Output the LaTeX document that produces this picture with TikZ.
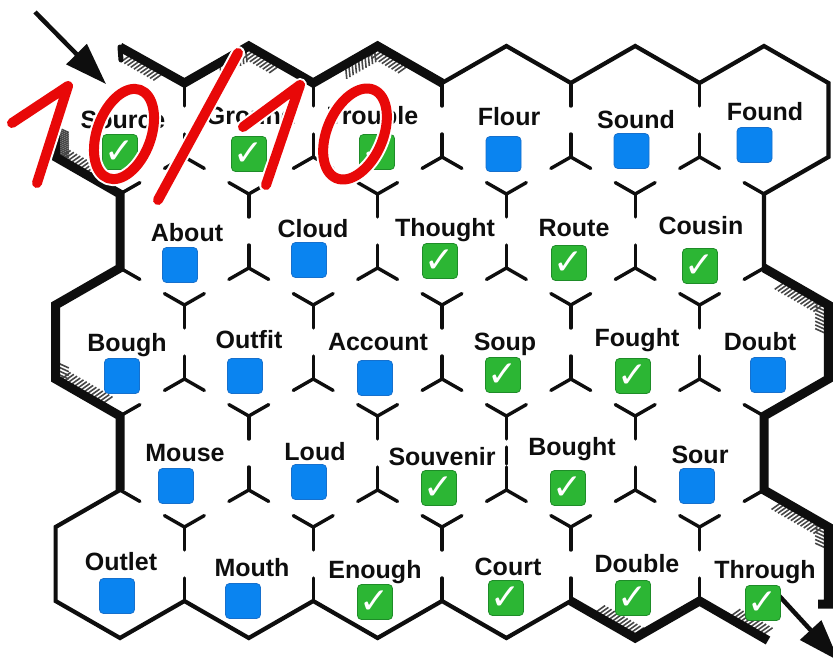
\documentclass[tikz,border=0pt]{standalone}
\usepackage{fontspec}
\setmainfont{Liberation Sans}
\newfontfamily\chkfont{DejaVu Sans}
\usetikzlibrary{calc,arrows.meta}
\definecolor{boxblue}{RGB}{10,132,240}
\definecolor{boxblueedge}{RGB}{22,112,205}
\definecolor{boxgreen}{RGB}{44,182,52}
\definecolor{boxgreenedge}{RGB}{30,140,40}
\definecolor{penred}{RGB}{232,8,8}
\definecolor{ink}{RGB}{14,14,14}
\definecolor{hatchgrey}{RGB}{70,70,70}
\newcommand\hatchseg[5]{%
  \foreach \i in {0,...,24}{%
    \pgfmathsetmacro\hs{#3+\i*0.05}%
    \ifdim\hs pt<#4pt
      \draw[hatchtick] ($#1!\hs!#2$) -- ++#5;
    \fi}}
\begin{document}
\begin{tikzpicture}[x=1pt,y=-1pt,
  word/.style={font=\bfseries\fontsize{25}{28}\selectfont, text=ink, anchor=base, inner sep=0pt},
  bluebox/.style={draw=boxblueedge, line width=0.8pt, fill=boxblue, rounded corners=4pt, minimum size=35pt, inner sep=0pt},
  greenbox/.style={draw=boxgreenedge, line width=0.8pt, fill=boxgreen, rounded corners=4pt, minimum size=35pt, inner sep=0pt, text=white, font=\chkfont\fontsize{36}{36}\selectfont},
  stub/.style={draw=ink, line width=3.4pt, line cap=round},
  wallthin/.style={draw=ink, line width=4.2pt, line join=miter, line cap=butt},
  wallthick/.style={draw=ink, line width=9pt, line join=miter, line cap=butt},
  hatchtick/.style={draw=hatchgrey, line width=1.6pt},
  redpen/.style={draw=penred, line width=10pt, line cap=round, line join=round},
  halo/.style={draw=white, line width=14pt, line cap=round, line join=round},
  arrowline/.style={draw=ink, line width=4.5pt, -{Triangle[length=42pt,width=28pt]}}
]
\clip (0,0) rectangle (833,659);
\fill[white] (0,0) rectangle (833,659);

% hatching on the inner side of the thick walls
\hatchseg{(120,46)}{(184.4,83)}{0.2}{0.75}{(-11.8,8.4)}
\hatchseg{(184.4,83)}{(248.8,46)}{0.55}{0.97}{(1.4,14.4)}
\hatchseg{(248.8,46)}{(313.2,83)}{0.05}{0.55}{(-11.8,8.4)}
\hatchseg{(313.2,83)}{(377.6,46)}{0.5}{0.97}{(1.4,14.4)}
\hatchseg{(377.6,46)}{(442,83)}{0.05}{0.55}{(-11.8,8.4)}
\hatchseg{(764,268)}{(828.4,305)}{0.35}{0.97}{(-11.8,8.4)}
\hatchseg{(828.4,305)}{(828.4,379)}{0.05}{0.45}{(-13.2,-6)}
\hatchseg{(764,490)}{(828.4,527)}{0.3}{0.97}{(-11.8,8.4)}
\hatchseg{(828.4,527)}{(828.4,601)}{0.05}{0.35}{(-13.2,-6)}
\hatchseg{(764,638)}{(699.6,601)}{0.05}{0.6}{(11.8,-8.4)}
\hatchseg{(635.2,638)}{(570.8,601)}{0.05}{0.7}{(11.8,-8.4)}
\hatchseg{(120,416)}{(55.6,379)}{0.3}{0.97}{(11.8,-8.4)}
\hatchseg{(55.6,379)}{(55.6,305)}{0.03}{0.25}{(13.2,6)}
\hatchseg{(120,194)}{(55.6,157)}{0.45}{0.97}{(11.8,-8.4)}
\hatchseg{(55.6,157)}{(55.6,118)}{0.03}{0.8}{(13.2,6)}

% interior wall stubs
\foreach \r/\n/\off in {0/5/120,1/4/184.4,2/5/120,3/4/184.4,4/5/120}{
  \foreach \k in {0,...,\n}{
    \pgfmathsetmacro{\cx}{\off+128.8*\k}
    \pgfmathsetmacro{\cy}{120+111*\r}
    \ifnum\k<\n
      \draw[stub] (\cx+64.4,\cy-37) -- ++(0,23) (\cx+64.4,\cy+37) -- ++(0,-23);
    \fi
    \ifnum\r<4
      \pgfmathtruncatemacro{\lr}{(mod(\r,2)==1) || (\k<5)}
      \pgfmathtruncatemacro{\ll}{(mod(\r,2)==1) || (\k>0)}
      \ifnum\lr=1
        \draw[stub] (\cx,\cy+74) -- ++(19.9,-11.4) (\cx+64.4,\cy+37) -- ++(-19.9,11.4);
      \fi
      \ifnum\ll=1
        \draw[stub] (\cx,\cy+74) -- ++(-19.9,-11.4) (\cx-64.4,\cy+37) -- ++(19.9,11.4);
      \fi
    \fi
  }
}
\draw[stub] (506.4,447) -- (506.4,464);

% outer walls
\draw[wallthick] (120,47) -- (184.4,83) -- (248.8,46) -- (313.2,83) -- (377.6,46) -- (442,83);
\draw[wallthick, line width=5pt, line cap=round] (120,47) -- (121,60);
\draw[wallthin] (442,83) -- (506.4,46) -- (570.8,83) -- (635.2,46) -- (699.6,83) -- (764,46) -- (828.4,83) -- (828.4,157) -- (764,194) -- (764,268);
\draw[wallthick] (764,268) -- (828.4,305) -- (828.4,379) -- (764,416) -- (764,490) -- (828.4,527) -- (828.4,604) -- (818,604);
\draw[wallthick] (768,640.5) -- (699.6,601) -- (635.2,638) -- (570.8,601);
\draw[wallthin] (570.8,601) -- (506.4,638) -- (442,601) -- (377.6,638) -- (313.2,601) -- (248.8,638) -- (184.4,601) -- (120,638) -- (55.6,601) -- (55.6,527) -- (120,490);
\draw[wallthick] (120,490) -- (120,416) -- (55.6,379) -- (55.6,305) -- (120,268) -- (120,194) -- (55.6,157) -- (55.6,118);

% exit arrow (under the last box)
\coordinate (outA) at (772,588);
\coordinate (outB) at (839,661);
\draw[arrowline] (outA) -- (outB);

% words and boxes
\node[word] (w1) at (123,128) {Source};   \node[greenbox] (b1) at (120,152) {✓};
\node[word] (w2) at (251,124) {Ground};   \node[greenbox] (b2) at (249,154) {✓};
\node[word] (w3) at (373,124) {Trouble};  \node[greenbox] (b3) at (377,152) {✓};
\node[word] (w4) at (509,125) {Flour};    \node[bluebox] (b4) at (503.5,154) {};
\node[word] (w5) at (636,128) {Sound};    \node[bluebox] (b5) at (631.5,151) {};
\node[word] (w6) at (765,120) {Found};    \node[bluebox] (b6) at (754.5,145) {};
\node[word] (w7) at (187,241) {About};    \node[bluebox] (b7) at (180,265) {};
\node[word] (w8) at (313,237) {Cloud};    \node[bluebox] (b8) at (309,260) {};
\node[word] (w9) at (445,236) {Thought};  \node[greenbox] (b9) at (440,261) {✓};
\node[word] (w10) at (574,236) {Route};   \node[greenbox] (b10) at (569,263) {✓};
\node[word] (w11) at (701,234) {Cousin};  \node[greenbox] (b11) at (700,266) {✓};
\node[word] (w12) at (127,351) {Bough};   \node[bluebox] (b12) at (122,376) {};
\node[word] (w13) at (249,348) {Outfit};  \node[bluebox] (b13) at (245,376) {};
\node[word] (w14) at (378,350) {Account}; \node[bluebox] (b14) at (375,378) {};
\node[word] (w15) at (505,350) {Soup};    \node[greenbox] (b15) at (503,375) {✓};
\node[word] (w16) at (637,346) {Fought};  \node[greenbox] (b16) at (633,376) {✓};
\node[word] (w17) at (760,350) {Doubt};   \node[bluebox] (b17) at (768,375) {};
\node[word] (w18) at (185,461) {Mouse};   \node[bluebox] (b18) at (176,486) {};
\node[word] (w19) at (315,460) {Loud};    \node[bluebox] (b19) at (309,482) {};
\node[word] (w20) at (442,465) {Souvenir};\node[greenbox] (b20) at (439,488) {✓};
\node[word] (w21) at (572,455) {Bought};  \node[greenbox] (b21) at (568,488) {✓};
\node[word] (w22) at (700,463) {Sour};    \node[bluebox] (b22) at (697,486) {};
\node[word] (w23) at (121,570) {Outlet};  \node[bluebox] (b23) at (117,596) {};
\node[word] (w24) at (252,576) {Mouth};   \node[bluebox] (b24) at (243,601) {};
\node[word] (w25) at (375,578) {Enough};  \node[greenbox] (b25) at (375,602) {✓};
\node[word] (w26) at (508,575) {Court};   \node[greenbox] (b26) at (506,598) {✓};
\node[word] (w27) at (637,572) {Double};  \node[greenbox] (b27) at (633,598) {✓};
\node[word] (w28) at (765,578) {Through}; \node[greenbox] (b28) at (763,603) {✓};

% entrance arrow
\coordinate (inA) at (35,12);
\coordinate (inB) at (106,84);
\draw[arrowline] (inA) -- (inB);

% red score "10/10"
\draw[halo] (12,123) -- (68,86) -- (37,183);
\draw[halo, rotate around={-20:(124,134)}] (124,134) ellipse [x radius=27, y radius=47];
\draw[halo] (238,53) -- (158,200);
\draw[halo] (243,127) -- (300,85) -- (266,185);
\draw[halo, rotate around={-23:(355,134)}] (355,134) ellipse [x radius=28, y radius=48];
\draw[redpen] (12,123) -- (68,86) -- (37,183);
\draw[redpen, rotate around={-20:(124,134)}] (124,134) ellipse [x radius=27, y radius=47];
\draw[redpen] (238,53) -- (158,200);
\draw[redpen] (243,127) -- (300,85) -- (266,185);
\draw[redpen, rotate around={-23:(355,134)}] (355,134) ellipse [x radius=28, y radius=48];
\end{tikzpicture}
\end{document}
